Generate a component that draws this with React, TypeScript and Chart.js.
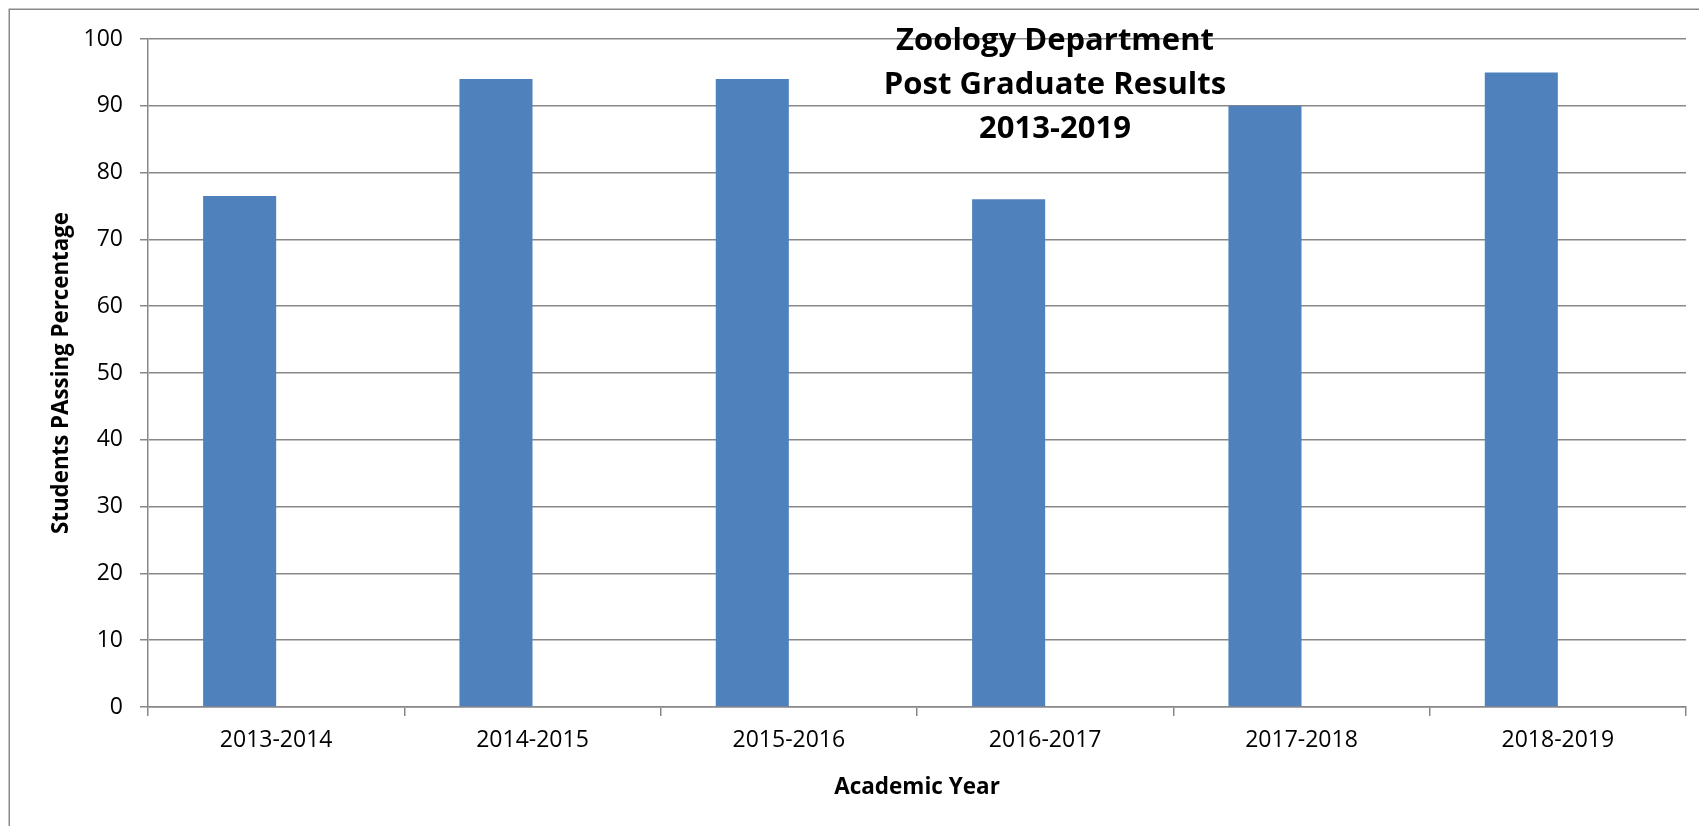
import React, { useEffect, useRef } from "react";
import { Chart, registerables } from "chart.js";

Chart.register(...registerables);

const categories = ["2013-2014", "2014-2015", "2015-2016", "2016-2017", "2017-2018", "2018-2019"];
const passingPercentage = [76.5, 94, 94, 76, 90, 95];
const emptySeries = [null, null, null, null, null, null];
const titleLines = ["Zoology Department", "Post Graduate Results", "2013-2019"];
const yAxisTitle = "Students PAssing Percentage";
const xAxisTitle = "Academic Year";
const yMin = 0;
const yMax = 100;
const yStep = 10;

const FONT = "'Open Sans', 'Liberation Sans', sans-serif";
const GRID = "#888888";

const framePlugin = {
  id: "frame",
  beforeDraw(chart: any) {
    const ctx = chart.ctx;
    ctx.save();
    ctx.fillStyle = "#ffffff";
    ctx.fillRect(0, 0, chart.width, chart.height);
    ctx.strokeStyle = "#8a8a8a";
    ctx.lineWidth = 1.5;
    ctx.strokeRect(9.25, 9.25, chart.width + 20, chart.height + 20);
    ctx.restore();
  },
};

const overlayTitlePlugin = {
  id: "overlayTitle",
  afterDraw(chart: any) {
    const ctx = chart.ctx;
    ctx.save();
    ctx.fillStyle = "#000000";
    ctx.font = `bold 31px ${FONT}`;
    ctx.textAlign = "center";
    ctx.textBaseline = "alphabetic";
    const cx = 1055;
    const firstBaseline = 50;
    const lineGap = 44;
    titleLines.forEach((line, i) => {
      ctx.fillText(line, cx, firstBaseline + i * lineGap);
    });
    ctx.restore();
  },
};

export default function App() {
  const canvasRef = useRef<HTMLCanvasElement | null>(null);

  useEffect(() => {
    if (!canvasRef.current) return;
    const chart = new Chart(canvasRef.current, {
      type: "bar",
      data: {
        labels: categories,
        datasets: [
          {
            label: "Passing %",
            data: passingPercentage,
            backgroundColor: "#4F81BD",
            borderWidth: 0,
            categoryPercentage: 0.57,
            barPercentage: 1.0,
          },
          {
            label: "",
            data: emptySeries as any,
            backgroundColor: "#C0504D",
            borderWidth: 0,
            categoryPercentage: 0.57,
            barPercentage: 1.0,
          },
        ],
      },
      options: {
        animation: false,
        responsive: true,
        maintainAspectRatio: false,
        layout: { padding: { top: 39, right: 13, left: 0, bottom: 0 } },
        plugins: {
          legend: { display: false },
          tooltip: { enabled: false },
          title: { display: false },
        },
        scales: {
          x: {
            offset: true,
            afterFit(scale: any) {
              scale.height = 119;
            },
            grid: {
              offset: true,
              drawOnChartArea: false,
              drawTicks: true,
              tickLength: 9,
              color: GRID,
              lineWidth: 1.5,
            },
            border: { display: true, color: GRID, width: 1.5 },
            ticks: {
              color: "#000000",
              font: { family: FONT, size: 23 },
              padding: 11,
              maxRotation: 0,
              autoSkip: false,
            },
            title: {
              display: true,
              text: xAxisTitle,
              color: "#000000",
              font: { family: FONT, size: 22.5, weight: "bold" },
              padding: { top: 0, bottom: 25 },
            },
          },
          y: {
            min: yMin,
            max: yMax,
            afterFit(scale: any) {
              scale.width = 148;
            },
            grid: {
              drawOnChartArea: true,
              drawTicks: true,
              tickLength: 8,
              color: GRID,
              lineWidth: 1.5,
            },
            border: { display: true, color: GRID, width: 1.5 },
            ticks: {
              stepSize: yStep,
              color: "#000000",
              font: { family: FONT, size: 23 },
              padding: 17,
            },
            title: {
              display: true,
              text: yAxisTitle,
              color: "#000000",
              font: { family: FONT, size: 22.3, weight: "bold" },
              padding: { top: 48, bottom: 0 },
            },
          },
        },
      },
      plugins: [framePlugin, overlayTitlePlugin],
    });
    return () => chart.destroy();
  }, []);

  return (
    <div style={{ position: "absolute", left: 0, top: 0, width: 1699, height: 826 }}>
      <canvas ref={canvasRef} />
    </div>
  );
}
